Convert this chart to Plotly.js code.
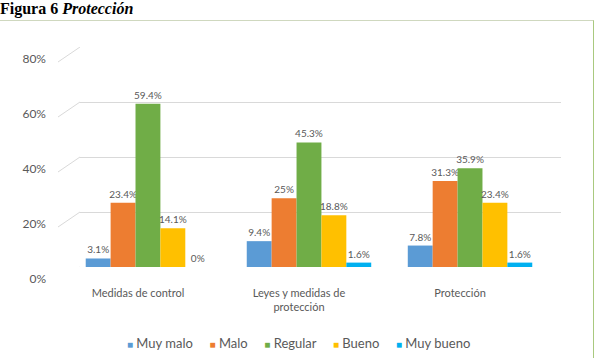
<!DOCTYPE html>
<html>
<head>
<meta charset="utf-8">
<script src="https://cdn.plot.ly/plotly-3.0.1.min.js"></script>
<style>
html,body{margin:0;padding:0;background:#fff;overflow:hidden;}
#wrap{position:relative;width:600px;height:358px;overflow:hidden;}
#chart{width:600px;height:358px;}
#frame{position:absolute;left:-5px;top:20px;width:599px;height:400px;box-sizing:border-box;
  border-top:1.5px solid #cfd8bf;border-right:1.5px solid #a9c97f;pointer-events:none;}
</style>
</head>
<body>
<div id="wrap"><div id="chart"></div><div id="frame"></div></div>
<script>
// ---- data ----
const categories = ["Medidas de control", "Leyes y medidas de<br>protección", "Protección"];
const seriesNames = ["Muy malo", "Malo", "Regular", "Bueno", "Muy bueno"];
const muyMalo  = [3.1, 9.4, 7.8];
const malo     = [23.4, 25, 31.3];
const regular  = [59.4, 45.3, 35.9];
const bueno    = [14.1, 18.8, 23.4];
const muyBueno = [0, 1.6, 1.6];
const yTicks   = [0, 20, 40, 60, 80];
const yTickLabels = ["0%", "20%", "40%", "60%", "80%"];

// ---- styles ----
const colors = ["#5B9BD5", "#ED7D31", "#70AD47", "#FFC000", "#00B0F0"];
const seriesValues = [muyMalo, malo, regular, bueno, muyBueno];
const labelFont = "Lato, 'Open Sans', sans-serif";
const gray = "#595959";

const traces = seriesValues.map((vals, i) => ({
  type: "bar",
  name: seriesNames[i],
  x: categories,
  y: vals,
  text: vals.map(v => v + "%"),
  textposition: "outside",
  constraintext: "none",
  cliponaxis: false,
  textfont: {family: labelFont, size: 10, color: gray},
  marker: {color: colors[i]},
  hoverinfo: "skip"
}));

const slants = yTicks.map(v => ({
  type: "line",
  xref: "paper", xsizemode: "pixel", xanchor: 0, x0: -22, x1: 0,
  yref: "y", ysizemode: "pixel", yanchor: v, y0: -15, y1: 0,
  line: {color: "#d9d9d9", width: 1}
}));

const legendText = seriesNames.map((n, i) =>
  '<span style="color:' + colors[i] + ';font-size:10px">\u25A0</span>\u00A0' + n
).join("\u00A0\u00A0\u00A0\u00A0\u00A0");

const layout = {
  width: 600, height: 358,
  margin: {l: 80, r: 39, t: 47, b: 91},
  paper_bgcolor: "rgba(0,0,0,0)", plot_bgcolor: "rgba(0,0,0,0)",
  title: {
    text: "<b>Figura 6 <i>Protección</i></b>",
    font: {family: "'Liberation Serif', 'Times New Roman', serif", size: 16, color: "#000"},
    xref: "container", x: 0, xanchor: "left",
    yref: "container", y: 1, yanchor: "top", pad: {t: 3, b: 0, l: 0, r: 0}
  },
  barmode: "group",
  bargap: 0.227,
  bargroupgap: 0.0,
  showlegend: false,
  xaxis: {
    range: [-0.422, 2.565],
    showgrid: false, zeroline: false, showline: false, ticks: "",
    tickfont: {family: labelFont, size: 11, color: gray},
    ticklabelstandoff: 18, ticklabelshift: -10,
    fixedrange: true
  },
  yaxis: {
    range: [0, 80],
    tickmode: "array", tickvals: yTicks, ticktext: yTickLabels,
    showgrid: true, gridcolor: "#d9d9d9", gridwidth: 1,
    zeroline: false, showline: false, ticks: "",
    tickfont: {family: labelFont, size: 12, color: gray},
    ticklabelstandoff: 33, ticklabelshift: 12,
    fixedrange: true
  },
  shapes: slants,
  annotations: [{
    xref: "paper", yref: "paper",
    x: (298 - 80) / 481, y: (267 - 343) / 220,
    xanchor: "center", yanchor: "middle",
    showarrow: false,
    text: legendText,
    font: {family: labelFont, size: 13, color: gray}
  }]
};

Plotly.newPlot("chart", traces, layout, {displayModeBar: false, staticPlot: true});
</script>
</body>
</html>
